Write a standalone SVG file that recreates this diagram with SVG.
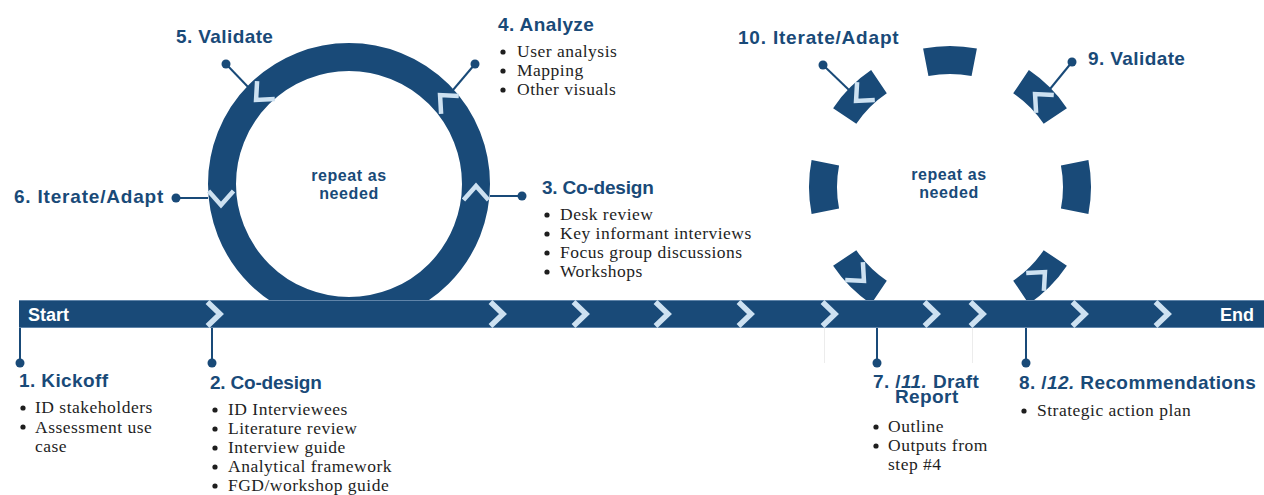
<svg xmlns="http://www.w3.org/2000/svg" xmlns:xlink="http://www.w3.org/1999/xlink" width="1264" height="495" viewBox="0 0 1264 495">
  <defs>
    <style>
      .head { font-family: "Liberation Sans", Arial, sans-serif; font-weight: bold; font-size: 19px; fill: #194a78; letter-spacing: 0.4px; }
      .tight { letter-spacing: -0.2px; }
      .wide { letter-spacing: 0.8px; }
      .mid { font-family: "Liberation Sans", Arial, sans-serif; font-weight: bold; font-size: 16px; fill: #194a78; letter-spacing: 0.6px; text-anchor: middle; }
      .bar-label { font-family: "Liberation Sans", Arial, sans-serif; font-weight: bold; font-size: 18px; fill: #ffffff; }
      .body { font-family: "Liberation Serif", "Times New Roman", serif; font-size: 17.5px; fill: #1e1e1e; letter-spacing: 0.5px; }
      .bullet { fill: #1e1e1e; }
      .ring { fill: none; stroke: #194a78; stroke-width: 28; }
      .link { stroke: #194a78; stroke-width: 2; fill: none; }
      .dot { fill: #194a78; }
      .faint { stroke: #ececec; stroke-width: 1; }
      .edge { stroke: #5f84a9; stroke-width: 1; }
    </style>
    <!-- chevron pointing along +x -->
    <path id="chev" d="M-7,-12.5 L7,0 L-7,12.5" fill="none" stroke="#cde1f1" stroke-width="4.5" stroke-linecap="butt" stroke-linejoin="miter"/>
    <path id="bchev" d="M-6.5,-12 L6,0 L-6.5,12" fill="none" stroke="#cde1f1" stroke-width="5.5" stroke-linecap="butt" stroke-linejoin="miter"/>
    <circle id="bul" r="2.6" class="bullet"/>
  </defs>

  <rect width="1264" height="495" fill="#ffffff"/>

  <!-- left loop: full ring -->
  <g id="loop-solid">
    <circle class="ring" cx="349" cy="184" r="127"/>
    <use xlink:href="#chev" transform="translate(476,193) rotate(-90)"/>
    <use xlink:href="#chev" transform="translate(445,100) rotate(-135)"/>
    <use xlink:href="#chev" transform="translate(261,95) rotate(135)"/>
    <use xlink:href="#chev" transform="translate(221,198) rotate(90)"/>
    <text class="mid" x="349" y="181">repeat as</text>
    <text class="mid" x="349" y="199">needed</text>
  </g>

  <!-- right loop: ring broken into arc segments (bottom one merges into the bar) -->
  <g id="loop-dashed">
    <path class="ring" d="M1074.67,162.77 A127,127 0 0 1 1074.67,211.23"/>
    <path class="ring" d="M1055.29,258.02 A127,127 0 0 1 1021.02,292.29"/>
    <path class="ring" d="M878.98,292.29 A127,127 0 0 1 844.71,258.02"/>
    <path class="ring" d="M825.33,211.23 A127,127 0 0 1 825.33,162.77"/>
    <path class="ring" d="M844.71,115.98 A127,127 0 0 1 878.98,81.71"/>
    <path class="ring" d="M925.77,62.33 A127,127 0 0 1 974.23,62.33"/>
    <path class="ring" d="M1021.02,81.71 A127,127 0 0 1 1055.29,115.98"/>
    <use xlink:href="#chev" transform="translate(861,96) rotate(135)"/>
    <use xlink:href="#chev" transform="translate(1040,99) rotate(-135)"/>
    <use xlink:href="#chev" transform="translate(859,276) rotate(45)"/>
    <use xlink:href="#chev" transform="translate(1040,277) rotate(-45)"/>
    <text class="mid" x="949" y="180">repeat as</text>
    <text class="mid" x="949" y="198">needed</text>
  </g>

  <!-- timeline bar -->
  <g id="timeline">
    <rect x="19" y="300" width="1245" height="28" fill="#194a78"/>
    <line class="edge" x1="19" y1="300.5" x2="1264" y2="300.5"/>
    <line class="edge" x1="19" y1="327.5" x2="1264" y2="327.5"/>
    <use xlink:href="#bchev" transform="translate(214,314)"/>
    <use xlink:href="#bchev" transform="translate(497,314)"/>
    <use xlink:href="#bchev" transform="translate(580,314)"/>
    <use xlink:href="#bchev" transform="translate(662,314)"/>
    <use xlink:href="#bchev" transform="translate(745,314)"/>
    <use xlink:href="#bchev" transform="translate(829,314)"/>
    <use xlink:href="#bchev" transform="translate(931,314)"/>
    <use xlink:href="#bchev" transform="translate(977,314)"/>
    <use xlink:href="#bchev" transform="translate(1079,314)"/>
    <use xlink:href="#bchev" transform="translate(1162,314)"/>
    <text class="bar-label" x="28" y="321">Start</text>
    <text class="bar-label" x="1254" y="321" text-anchor="end">End</text>
  </g>

  <!-- connectors -->
  <g id="connectors">
    <line class="link" x1="226" y1="64" x2="249" y2="88"/>
    <circle class="dot" cx="226" cy="64" r="4.5"/>
    <line class="link" x1="475" y1="64" x2="453" y2="90"/>
    <circle class="dot" cx="475" cy="64" r="4.5"/>
    <line class="link" x1="176" y1="198" x2="208" y2="198"/>
    <circle class="dot" cx="176" cy="198" r="4.5"/>
    <line class="link" x1="490" y1="196" x2="522" y2="196"/>
    <circle class="dot" cx="522" cy="196" r="4.5"/>
    <line class="link" x1="823" y1="65" x2="849" y2="90"/>
    <circle class="dot" cx="823" cy="65" r="4.5"/>
    <line class="link" x1="1072" y1="62" x2="1050" y2="89"/>
    <circle class="dot" cx="1072" cy="62" r="4.5"/>
    <line class="faint" x1="824.5" y1="328" x2="824.5" y2="363"/>
    <line class="faint" x1="972.5" y1="328" x2="972.5" y2="363"/>
    <line class="link" x1="20" y1="328" x2="20" y2="363"/>
    <circle class="dot" cx="20" cy="363" r="4.5"/>
    <line class="link" x1="212" y1="328" x2="212" y2="363"/>
    <circle class="dot" cx="212" cy="363" r="4.5"/>
    <line class="link" x1="877" y1="328" x2="877" y2="363"/>
    <circle class="dot" cx="877" cy="363" r="4.5"/>
    <line class="link" x1="1026" y1="328" x2="1026" y2="363"/>
    <circle class="dot" cx="1026" cy="363" r="4.5"/>
  </g>

  <g id="step-1">
    <text class="head" x="19" y="387">1. Kickoff</text>
    <use xlink:href="#bul" x="23" y="408"/>
    <text class="body" x="35" y="413">ID stakeholders</text>
    <use xlink:href="#bul" x="23" y="427"/>
    <text class="body" x="35" y="433">Assessment use</text>
    <text class="body" x="35" y="452">case</text>
  </g>

  <g id="step-2">
    <text class="head tight" x="210" y="389">2. Co-design</text>
    <use xlink:href="#bul" x="215" y="410"/>
    <text class="body" x="228" y="415">ID Interviewees</text>
    <use xlink:href="#bul" x="215" y="429"/>
    <text class="body" x="228" y="434">Literature review</text>
    <use xlink:href="#bul" x="215" y="448"/>
    <text class="body" x="228" y="453">Interview guide</text>
    <use xlink:href="#bul" x="215" y="467"/>
    <text class="body" x="228" y="472">Analytical framework</text>
    <use xlink:href="#bul" x="215" y="486"/>
    <text class="body" x="228" y="491">FGD/workshop guide</text>
  </g>

  <g id="step-3">
    <text class="head tight" x="542" y="194">3. Co-design</text>
    <use xlink:href="#bul" x="547" y="215"/>
    <text class="body" x="560" y="220">Desk review</text>
    <use xlink:href="#bul" x="547" y="234"/>
    <text class="body" x="560" y="239">Key informant interviews</text>
    <use xlink:href="#bul" x="547" y="253"/>
    <text class="body" x="560" y="258">Focus group discussions</text>
    <use xlink:href="#bul" x="547" y="272"/>
    <text class="body" x="560" y="277">Workshops</text>
  </g>

  <g id="step-4">
    <text class="head" x="498" y="31">4. Analyze</text>
    <use xlink:href="#bul" x="503" y="52"/>
    <text class="body" x="517" y="57">User analysis</text>
    <use xlink:href="#bul" x="503" y="71"/>
    <text class="body" x="517" y="76">Mapping</text>
    <use xlink:href="#bul" x="503" y="90"/>
    <text class="body" x="517" y="95">Other visuals</text>
  </g>

  <g id="step-5">
    <text class="head" x="176" y="43">5. Validate</text>
  </g>

  <g id="step-6">
    <text class="head wide" x="14" y="203">6. Iterate/Adapt</text>
  </g>

  <g id="step-7">
    <text class="head" x="873" y="388">7. /<tspan font-style="italic">11.</tspan> Draft</text>
    <text class="head" x="895" y="403">Report</text>
    <use xlink:href="#bul" x="876" y="427"/>
    <text class="body" x="888" y="432">Outline</text>
    <use xlink:href="#bul" x="876" y="446"/>
    <text class="body" x="888" y="451">Outputs from</text>
    <text class="body" x="888" y="470">step #4</text>
  </g>

  <g id="step-8">
    <text class="head" x="1019" y="389">8. /<tspan font-style="italic">12.</tspan> Recommendations</text>
    <use xlink:href="#bul" x="1024" y="411"/>
    <text class="body" x="1037" y="416">Strategic action plan</text>
  </g>

  <g id="step-9">
    <text class="head" x="1088" y="65">9. Validate</text>
  </g>

  <g id="step-10">
    <text class="head wide" x="738" y="44">10. Iterate/Adapt</text>
  </g>
</svg>
